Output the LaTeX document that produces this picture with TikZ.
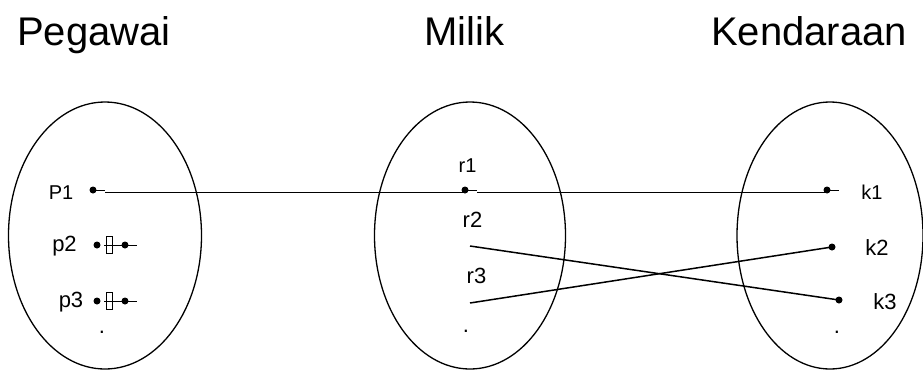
\documentclass[tikz,border=0pt]{standalone}
\usepackage{fontspec}
\setmainfont{Liberation Sans}
\usetikzlibrary{shapes.geometric}
\begin{document}
\begin{tikzpicture}[x=1pt,y=-1pt,
  settitle/.style={font=\fontsize{40}{44}\selectfont, inner sep=0pt, anchor=base west},
  setlabel/.style={font=\fontsize{22}{26}\selectfont, inner sep=0pt},
  smalllabel/.style={font=\fontsize{20}{24}\selectfont, inner sep=0pt},
  setoval/.style={draw, ellipse, line width=1.3pt, inner sep=0pt},
  dotmark/.style={circle, fill, inner sep=0pt, minimum size=7pt},
  boxmark/.style={draw, line width=0.8pt, inner sep=0pt, minimum width=6pt, minimum height=17pt},
  thinlink/.style={line width=1pt},
  thicklink/.style={line width=1.5pt}]
\useasboundingbox (0,0) rectangle (923,370);
% titles
\node[settitle] (tPeg) at (17,45.5) {Pegawai};
\node[settitle] (tMil) at (424,45.5) {Milik};
\node[settitle] (tKen) at (711,45.5) {Kendaraan};
% ovals
\node[setoval, minimum width=193pt, minimum height=267pt] (oP) at (105,235.5) {};
\node[setoval, minimum width=191pt, minimum height=267pt] (oM) at (470,235.5) {};
\node[setoval, minimum width=186pt, minimum height=267pt] (oK) at (830,235.5) {};
% Pegawai
\node[smalllabel] (lP1) at (61,192.5) {P1};
\node[setlabel] (lP2) at (64.5,246) {p2};
\node[setlabel] (lP3) at (71,302) {p3};
\node[setlabel] (lPd) at (102,332) {.};
\node[dotmark] (dP1) at (93,190) {};
\coordinate (eP1) at (105,190);
\draw[thinlink] (dP1.center) -- (eP1);
\node[dotmark] (dP2a) at (97,245) {};
\node[boxmark] (bP2) at (109,245) {};
\node[dotmark] (dP2b) at (125,245) {};
\coordinate (sP2) at (104,245);
\coordinate (eP2) at (137,245);
\draw[thinlink] (sP2) -- (eP2);
\node[dotmark] (dP3a) at (97,301) {};
\node[boxmark] (bP3) at (109,301) {};
\node[dotmark] (dP3b) at (125,301) {};
\coordinate (sP3) at (104,301);
\coordinate (eP3) at (137,301);
\draw[thinlink] (sP3) -- (eP3);
% Milik
\node[smalllabel] (lr1) at (467.5,166) {r1};
\node[setlabel] (lr2) at (472.5,220) {r2};
\node[setlabel] (lr3) at (476.5,276) {r3};
\node[setlabel] (lMd) at (466,331) {.};
\node[dotmark] (dr1) at (465,190) {};
\coordinate (er1) at (477,190);
\draw[thinlink] (dr1.center) -- (er1);
\coordinate (sr2) at (470,246);
\coordinate (sr3) at (470,303);
% Kendaraan
\node[smalllabel] (lk1) at (872,192) {k1};
\node[setlabel] (lk2) at (877,248) {k2};
\node[setlabel] (lk3) at (885,302) {k3};
\node[setlabel] (lKd) at (837,332) {.};
\node[dotmark] (dk1) at (827,190) {};
\coordinate (ek1) at (839,190);
\draw[thinlink] (dk1.center) -- (ek1);
\node[dotmark] (dk2) at (832,247) {};
\node[dotmark] (dk3) at (839,300) {};
% links
\coordinate (aP1) at (105,192);
\coordinate (ar1) at (465,192);
\coordinate (br1) at (477,192);
\coordinate (ak1) at (827,192);
\draw[thinlink] (aP1) -- (ar1);
\draw[thinlink] (br1) -- (ak1);
\draw[thicklink] (sr2) -- (dk3.center);
\draw[thicklink] (sr3) -- (dk2.center);
\end{tikzpicture}
\end{document}
